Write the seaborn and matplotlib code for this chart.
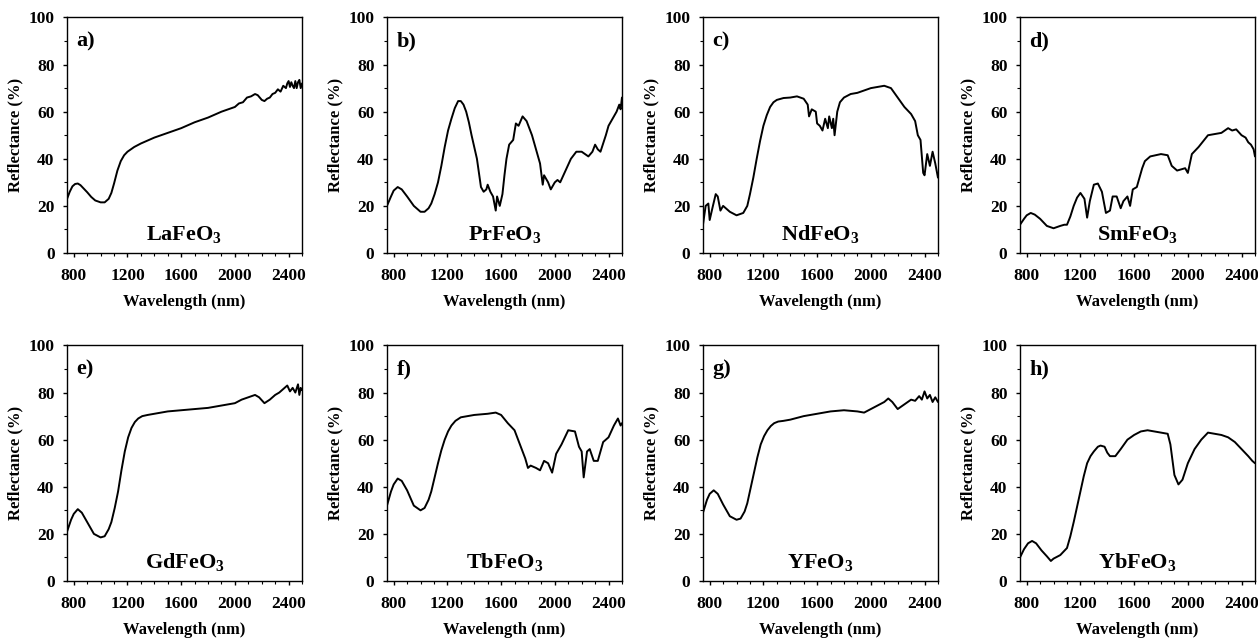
import numpy as np
import pandas as pd
import matplotlib
matplotlib.use("Agg")
import matplotlib.pyplot as plt
import seaborn as sns
from matplotlib.ticker import MultipleLocator

# panel labels and compound names
panel_tags = ['a)', 'b)', 'c)', 'd)', 'e)', 'f)', 'g)', 'h)']
compounds = ['La', 'Pr', 'Nd', 'Sm', 'Gd', 'Tb', 'Y', 'Yb']

# LaFeO3
wl_la = [750, 770, 790, 810, 830, 850, 870, 900, 930, 960, 1000, 1030, 1060, 1080, 1100, 1125,
         1150, 1175, 1200, 1250, 1300, 1400, 1500, 1600, 1700, 1800, 1900, 1950, 2000, 2030,
         2060, 2090, 2120, 2150, 2170, 2200, 2220, 2240, 2260, 2280, 2300, 2320, 2340, 2360,
         2380, 2390, 2400, 2410, 2420, 2430, 2440, 2450, 2460, 2470, 2480, 2490, 2500]
r_la = [23, 26, 28.3, 29.3, 29.5, 28.8, 27.6, 25.8, 23.8, 22.3, 21.5, 21.5, 23, 25.5, 29.5, 35,
        39, 41.5, 43, 45, 46.5, 49, 51, 53, 55.5, 57.5, 60, 61, 62, 63.5,
        64, 66, 66.5, 67.5, 67, 65, 64.5, 65.5, 66, 67.5, 68, 69.5, 68.5, 71,
        70, 72, 73, 70.5, 72.5, 71, 70, 73, 70, 72.5, 73.5, 70, 72]

# PrFeO3
wl_pr = [750, 780, 800, 830, 860, 900, 950, 1000, 1030, 1060, 1080, 1105, 1130, 1155, 1180,
         1205, 1230, 1255, 1280, 1300, 1320, 1340, 1360, 1380, 1400, 1420, 1450, 1470, 1490,
         1500, 1520, 1540, 1560, 1570, 1590, 1610, 1625, 1640, 1660, 1690, 1710, 1730, 1760,
         1790, 1830, 1860, 1890, 1910, 1920, 1950, 1970, 2000, 2020, 2040, 2080, 2120, 2160,
         2200, 2250, 2280, 2300, 2320, 2340, 2380, 2400, 2420, 2440, 2460, 2480, 2490, 2500]
r_pr = [20, 24, 26.5, 28, 27, 24, 20, 17.5, 17.5, 19, 21, 25, 30, 37, 45,
        52, 57, 61.5, 64.5, 64.5, 63, 60, 55.5, 50, 45, 40, 28, 26, 27,
        29, 26, 24, 18, 24, 20, 25, 33, 40, 46, 48, 55, 54, 58,
        56, 50, 44, 38, 29, 33, 30, 27, 30, 31, 30, 35, 40, 43,
        43, 41, 43, 46, 44, 43, 50, 54, 56, 58, 60, 63, 61, 66]

# NdFeO3
wl_nd = [750, 770, 790, 800, 820, 845, 860, 880, 900, 950, 1000, 1050, 1080, 1100, 1125, 1150,
         1175, 1200, 1225, 1250, 1275, 1300, 1350, 1400, 1450, 1500, 1530, 1540, 1560, 1590,
         1600, 1620, 1640, 1660, 1680, 1690, 1710, 1720, 1730, 1750, 1770, 1800, 1850, 1900,
         2000, 2050, 2100, 2150, 2200, 2250, 2300, 2330, 2350, 2370, 2390, 2400, 2420, 2440,
         2460, 2480, 2500]
r_nd = [12, 20, 21, 14, 19, 25, 24, 18, 20, 17.5, 16, 17, 20, 25, 32, 40,
        47.5, 54, 58.5, 62, 64, 65, 65.8, 66, 66.5, 65.5, 63, 58, 61, 60,
        55, 54, 52, 57, 53, 58, 53, 57, 50, 60, 64, 66, 67.5, 68,
        70, 70.5, 71, 70, 66, 62, 59, 56, 50, 48, 34, 33, 42, 37,
        43, 38, 32]

# SmFeO3
wl_sm = [750, 780, 800, 830, 860, 900, 950, 1000, 1050, 1080, 1100, 1125, 1150, 1175, 1200,
         1230, 1250, 1270, 1300, 1330, 1360, 1390, 1420, 1440, 1470, 1500, 1520, 1550, 1570,
         1590, 1620, 1640, 1660, 1680, 1720, 1800, 1850, 1880, 1920, 1980, 2000, 2030, 2080,
         2150, 2200, 2250, 2300, 2330, 2360, 2400, 2430, 2450, 2470, 2490, 2500]
r_sm = [12, 14.5, 16, 17, 16.3, 14.5, 11.5, 10.5, 11.5, 12, 12, 15.5, 20, 23.5, 25.5,
        23, 15, 22, 29, 29.5, 26, 17, 18, 24, 24, 19, 22, 24, 20,
        27, 28, 32, 36, 39, 41, 42, 41.5, 37, 35, 36, 34, 42, 45,
        50, 50.5, 51, 53, 52, 52.5, 50, 49, 47, 46, 44, 41]

# GdFeO3
wl_gd = [750, 780, 800, 830, 860, 900, 950, 1000, 1030, 1060, 1080, 1105, 1130, 1155, 1180,
         1205, 1230, 1255, 1280, 1310, 1350, 1400, 1500, 1600, 1700, 1800, 1900, 2000, 2050,
         2100, 2150, 2180, 2220, 2260, 2300, 2330, 2360, 2390, 2410, 2430, 2450, 2470, 2480,
         2490, 2500]
r_gd = [21, 26, 28.5, 30.5, 29, 25, 20, 18.5, 19, 22, 25, 31, 38, 47, 55,
        61, 65, 67.5, 69, 70, 70.5, 71, 72, 72.5, 73, 73.5, 74.5, 75.5, 77,
        78, 79, 78, 75.5, 77, 79, 80, 81.5, 83, 80.5, 82, 80, 83.5, 79,
        82, 81]

# TbFeO3
wl_tb = [750, 780, 800, 830, 860, 900, 950, 1000, 1030, 1060, 1080, 1105, 1130, 1155, 1180,
         1205, 1230, 1260, 1300, 1400, 1500, 1560, 1600, 1650, 1700, 1740, 1780, 1800, 1820,
         1860, 1890, 1920, 1950, 1980, 2010, 2050, 2100, 2150, 2180, 2200, 2215, 2240, 2260,
         2290, 2320, 2360, 2400, 2440, 2470, 2490, 2500]
r_tb = [32, 38, 41, 43.5, 42.5, 38.5, 32, 30, 31, 34.5, 38, 44, 50, 55.5, 60,
        63.5, 66, 68, 69.5, 70.5, 71, 71.5, 70.5, 67, 64, 58, 52, 48, 49,
        48, 47, 51, 50, 46, 54, 58, 64, 63.5, 57, 55, 44, 55, 56,
        51, 51, 59, 61, 66, 69, 66, 67]

# YFeO3
wl_y = [750, 780, 800, 830, 860, 900, 950, 1000, 1030, 1060, 1080, 1105, 1130, 1155, 1180,
        1205, 1230, 1255, 1280, 1310, 1350, 1400, 1500, 1600, 1700, 1800, 1900, 1950, 2000,
        2050, 2100, 2130, 2160, 2200, 2250, 2300, 2330, 2360, 2380, 2400, 2420, 2440, 2460,
        2480, 2500]
r_y = [29, 34.5, 37, 38.5, 37, 32.5, 27.5, 26, 26.5, 29.5, 33, 39.5, 46, 52.5, 58,
       61.5, 64, 65.8, 67, 67.7, 68, 68.5, 70, 71, 72, 72.5, 72, 71.5, 73,
       74.5, 76, 77.5, 76, 73, 75, 77, 76.5, 78.5, 77, 80.5, 77.5, 79, 76,
       78, 76]

# YbFeO3
wl_yb = [750, 780, 810, 840, 870, 910, 950, 980, 1000, 1050, 1100, 1125, 1150, 1175, 1200,
         1225, 1250, 1275, 1300, 1330, 1350, 1380, 1400, 1420, 1460, 1500, 1550, 1600, 1650,
         1700, 1750, 1800, 1850, 1870, 1900, 1930, 1960, 2000, 2050, 2100, 2150, 2200, 2250,
         2300, 2350, 2400, 2450, 2480, 2500]
r_yb = [10, 13.5, 16, 17, 16, 13, 10.5, 8.5, 9.5, 11, 14, 19, 25, 31.5, 38,
        44.5, 50, 53, 55, 57, 57.5, 57, 54.5, 53, 53, 56, 60, 62, 63.5,
        64, 63.5, 63, 62.5, 58, 45, 41, 43, 50, 56, 60, 63, 62.5, 62,
        61, 59, 56, 53, 51, 50]

wavelengths = [wl_la, wl_pr, wl_nd, wl_sm, wl_gd, wl_tb, wl_y, wl_yb]
reflectances = [r_la, r_pr, r_nd, r_sm, r_gd, r_tb, r_y, r_yb]

sns.set_style('ticks')
plt.rcParams['font.family'] = ['Liberation Serif', 'DejaVu Serif']
plt.rcParams['font.weight'] = 'bold'
plt.rcParams['text.color'] = 'black'
plt.rcParams['axes.labelcolor'] = 'black'
plt.rcParams['xtick.color'] = 'black'
plt.rcParams['ytick.color'] = 'black'
plt.rcParams['mathtext.fontset'] = 'custom'
plt.rcParams['mathtext.rm'] = 'Liberation Serif:bold'
plt.rcParams['mathtext.it'] = 'Liberation Serif:bold'
plt.rcParams['mathtext.bf'] = 'Liberation Serif:bold'

fig = plt.figure(figsize=(12.58, 6.4), dpi=100)

lefts = [0.0533, 0.3076, 0.5588, 0.8108]
bottoms = [0.6047, 0.0922]
w, h = 0.1868, 0.368

for i in range(8):
    ax = fig.add_axes([lefts[i % 4], bottoms[i // 4], w, h])
    df = pd.DataFrame({'Wavelength': wavelengths[i], 'Reflectance': reflectances[i]})
    sns.lineplot(data=df, x='Wavelength', y='Reflectance', ax=ax, color='black',
                 linewidth=1.4, estimator=None)
    ax.set_xlim(750, 2500)
    ax.set_ylim(0, 100)
    ax.set_xticks([800, 1200, 1600, 2000, 2400])
    ax.xaxis.set_minor_locator(MultipleLocator(100))
    ax.yaxis.set_major_locator(MultipleLocator(20))
    ax.yaxis.set_minor_locator(MultipleLocator(10))
    ax.tick_params(which='major', length=3, width=1, labelsize=12.5)
    ax.tick_params(axis='x', which='major', pad=8)
    ax.tick_params(axis='y', which='major', pad=6)
    ax.tick_params(which='minor', length=2, width=0.8)
    for lab in ax.get_xticklabels() + ax.get_yticklabels():
        lab.set_fontweight('bold')
    for sp in ax.spines.values():
        sp.set_linewidth(1)
        sp.set_color('black')
    ax.set_xlabel('Wavelength (nm)', fontsize=12, fontweight='bold', labelpad=7)
    ax.set_ylabel('Reflectance (%)', fontsize=12, fontweight='bold', labelpad=4)
    ax.text(0.04, 0.9, panel_tags[i], transform=ax.transAxes, fontsize=16,
            fontweight='bold', va='center', ha='left', color='black')
    ax.text(0.5, 0.035, compounds[i] + r'FeO$_3$', transform=ax.transAxes,
            fontsize=16, fontweight='bold', va='bottom', ha='center', color='black')

fig.savefig('out.png', dpi=100, facecolor='white')
